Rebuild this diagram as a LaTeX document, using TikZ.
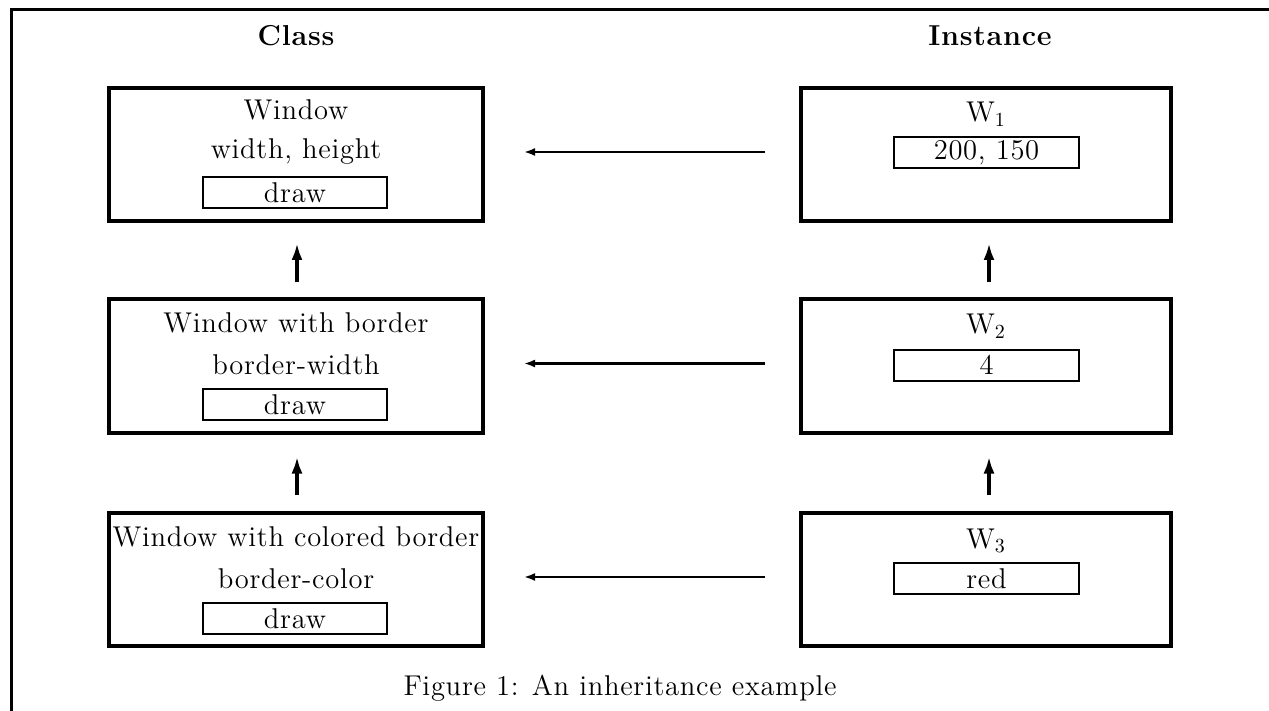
\documentclass[tikz,border=0pt]{standalone}
\usepackage{fontspec}
\setmainfont{lmroman12-regular.otf}[BoldFont=lmroman12-bold.otf, LetterSpace=2.5]
\usetikzlibrary{arrows.meta}
\begin{document}
\begin{tikzpicture}[x=0.5pt,y=-0.5pt,
  txt/.style={font=\fontsize{14.3}{17}\selectfont, inner sep=0pt, anchor=base},
  hd/.style={font=\fontsize{14.4}{17}\selectfont\bfseries, inner sep=0pt, anchor=base},
  outerbox/.style={draw, line width=2pt, minimum width=187pt, minimum height=66.5pt, inner sep=0pt},
  slot/.style={draw, line width=1pt, minimum width=92pt, minimum height=15.5pt, inner sep=0pt, font=\fontsize{14.3}{17}\selectfont},
  uparrow/.style={line width=2.2pt, -{Latex[length=8.5pt,width=5.5pt]}},
  inharrow/.style={line width=1.2pt, -{Latex[length=5.5pt,width=4pt]}}
]
\useasboundingbox (0,0) rectangle (1269,711);
% frame
\draw[line width=1.5pt] (11.5,720) -- (11.5,9.5) -- (1280,9.5);

% headings
\node[hd] (hclass) at (296,46) {Class};
\node[hd] (hinst) at (990,46) {Instance};

% class boxes
\node[outerbox] (c1) at (296,154.5) {};
\node[outerbox] (c2) at (296,366) {};
\node[outerbox] (c3) at (296,579.5) {};

\node[txt] (c1a) at (296,120) {Window};
\node[txt] (c1b) at (296,159) {width, height};
\node[slot] (c1s) at (295,192.5) {draw};

\node[txt] (c2a) at (296,332) {Window with border};
\node[txt] (c2b) at (296,374) {border-width};
\node[slot] (c2s) at (295,404.5) {draw};

\node[txt] (c3a) at (296,546) {Window with colored border};
\node[txt] (c3b) at (296,588) {border-color};
\node[slot] (c3s) at (295,618.5) {draw};

% instance boxes
\node[outerbox, minimum width=185pt] (r1) at (986,154.5) {};
\node[outerbox, minimum width=185pt] (r2) at (986,366) {};
\node[outerbox, minimum width=185pt] (r3) at (986,579.5) {};

\node[txt] (r1a) at (986,122) {W$_1$};
\node[slot, minimum width=92.5pt] (r1s) at (986.5,152.5) {200, 150};

\node[txt] (r2a) at (986,334) {W$_2$};
\node[slot, minimum width=92.5pt] (r2s) at (986.5,365) {4};

\node[txt] (r3a) at (986,548) {W$_3$};
\node[slot, minimum width=92.5pt] (r3s) at (986.5,578.5) {red};

% vertical arrows
\draw[uparrow, shorten <=7.5pt, shorten >=10pt] ([xshift=0.5pt]c2.north) -- ([xshift=0.5pt]c1.south);
\draw[uparrow, shorten <=8pt, shorten >=11pt] ([xshift=0.5pt]c3.north) -- ([xshift=0.5pt]c2.south);
\draw[uparrow, shorten <=7.5pt, shorten >=10pt] ([xshift=1.5pt]r2.north) -- ([xshift=1.5pt]r1.south);
\draw[uparrow, shorten <=8pt, shorten >=11pt] ([xshift=1.5pt]r3.north) -- ([xshift=1.5pt]r2.south);

% horizontal arrows
\draw[inharrow, shorten <=17pt, shorten >=19.5pt] ([yshift=1.25pt]r1.west) -- ([yshift=1.25pt]c1.east);
\draw[inharrow, shorten <=17pt, shorten >=19.5pt] ([yshift=1.25pt]r2.west) -- ([yshift=1.25pt]c2.east);
\draw[inharrow, shorten <=17pt, shorten >=19.5pt] ([yshift=1.25pt]r3.west) -- ([yshift=1.25pt]c3.east);

% caption
\node[txt] (cap) at (620,695) {Figure 1: An inheritance example};
\end{tikzpicture}
\end{document}
